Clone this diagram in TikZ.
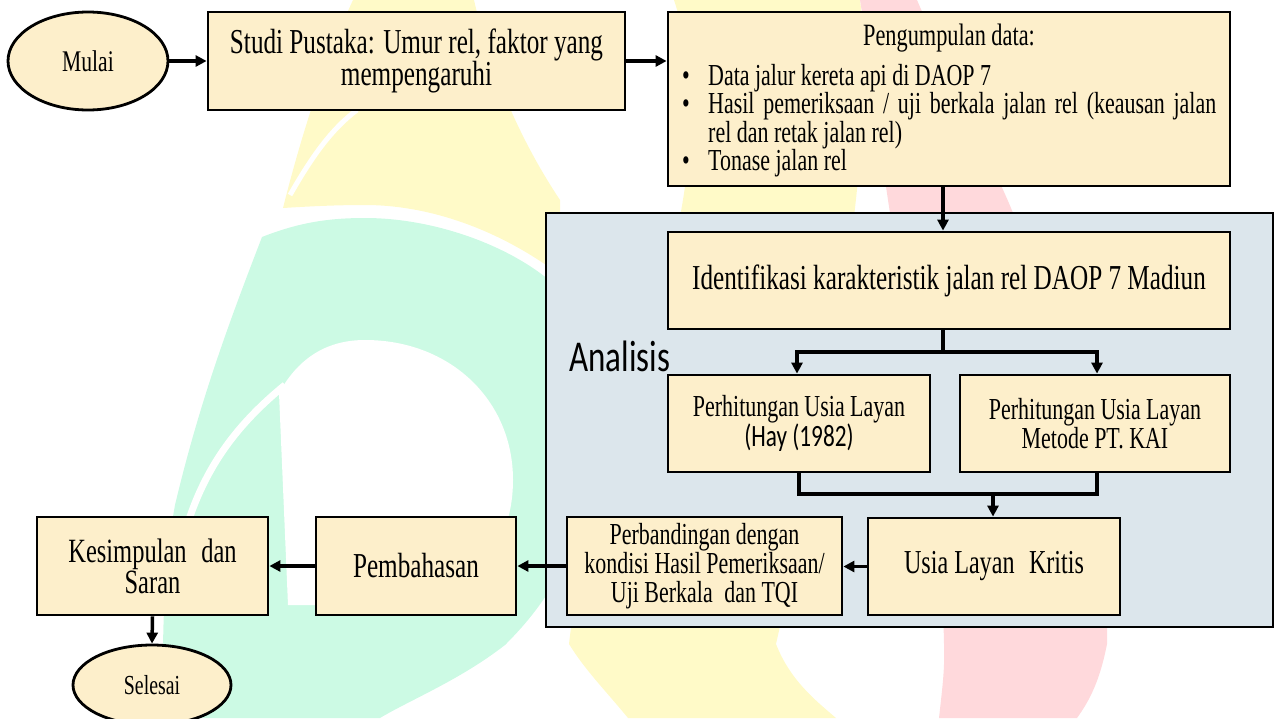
\documentclass[tikz,border=0pt]{standalone}
\usepackage{fontspec}
\setmainfont{Liberation Serif}[FakeStretch=0.72]
\newfontfamily\calib{Carlito}[FakeStretch=0.75]
\usetikzlibrary{arrows.meta,shapes.geometric}
\definecolor{boxfill}{RGB}{253,239,203}
\definecolor{greyfill}{RGB}{220,230,236}
\definecolor{greenbg}{RGB}{204,250,228}
\definecolor{yellowbg}{RGB}{255,250,200}
\definecolor{pinkbg}{RGB}{255,217,220}
\tikzset{
  box/.style={draw, line width=2.8pt, fill=boxfill, inner sep=0pt, align=center, rectangle},
  oval/.style={draw, line width=2.8pt, fill=boxfill, inner sep=0pt, ellipse},
  arr/.style={line width=3.5pt, -{Triangle[length=11pt,width=11pt]}},
  conn/.style={line width=3.5pt}
}
\begin{document}
\begin{tikzpicture}[x=1pt,y=-1pt]
\useasboundingbox (0,0) rectangle (1274,718);
% background watermark
\begin{scope}
\clip (0,0) rectangle (1274,718);
\fill[greenbg] (262,237) .. controls (300,222) and (330,218) .. (365,218)
  .. controls (440,218) and (520,250) .. (560,290) -- (600,450)
  .. controls (580,560) and (540,610) .. (505,645)
  .. controls (460,680) and (410,700) .. (380,718) -- (165,718)
  .. controls (160,640) and (165,560) .. (175,505)
  .. controls (200,400) and (230,320) .. (262,237) -- cycle;
\fill[white] (279,393) .. controls (300,355) and (330,340) .. (365,340)
  .. controls (450,340) and (513,400) .. (513,480)
  .. controls (513,540) and (480,580) .. (440,605) -- (288,605) -- cycle;
\draw[white, line width=7pt] (285,385) .. controls (230,430) and (195,480) .. (178,560);
\fill[yellowbg] (283,208) .. controls (300,140) and (325,60) .. (353,0) -- (474,0)
  .. controls (490,70) and (520,140) .. (560,200) -- (560,275)
  .. controls (500,230) and (430,205) .. (365,205)
  .. controls (330,205) and (300,207) .. (283,208) -- cycle;
\draw[white, line width=5pt] (290,195) .. controls (310,160) and (330,130) .. (357,110);
\fill[yellowbg] (674,0) -- (860,0) .. controls (880,150) and (820,450) .. (776,644)
  .. controls (790,680) and (815,700) .. (836,718) -- (628,718)
  .. controls (605,690) and (585,670) .. (569,644)
  .. controls (590,450) and (740,200) .. (674,0) -- cycle;
\fill[pinkbg] (860,0) -- (917,0) .. controls (960,100) and (1000,180) .. (1013,213)
  .. controls (1060,350) and (1110,500) .. (1107,644)
  .. controls (1100,680) and (1090,700) .. (1077,718) -- (939,718)
  .. controls (942,690) and (945,670) .. (944,644)
  .. controls (940,450) and (910,300) .. (890,213)
  .. controls (880,150) and (870,60) .. (860,0) -- cycle;
\end{scope}
% analysis area
\node[draw, line width=2.5pt, fill=greyfill, rectangle, inner sep=0pt,
      minimum width=727, minimum height=414] (area) at (909.5,420) {};
\node[anchor=west, inner sep=0pt, font=\calib\fontsize{44}{48}\selectfont] (analisis) at (569,356) {Analisis};
% nodes
\node[oval, minimum width=160, minimum height=98, font=\fontsize{30}{34}\selectfont] (mulai) at (88,61) {Mulai};
\node[box, minimum width=417, minimum height=98, font=\fontsize{35}{31}\selectfont] (studi) at (416.5,61)
  {Studi Pustaka: Umur rel, faktor yang\\mempengaruhi};
\node[box, minimum width=562, minimum height=174] (peng) at (949,99) {};
\node[inner sep=0pt, font=\fontsize{31}{34}\selectfont] (pengt) at (949,38) {Pengumpulan data:};
\node[anchor=north west, inner sep=0pt, text width=534pt, align=justify,
      font=\fontsize{30.5}{28.5}\selectfont] (pengl) at (682,64)
  {\hangindent=26pt\hangafter=1\makebox[26pt][l]{\textbullet}Data jalur kereta api di DAOP 7\par
   \hangindent=26pt\hangafter=1\makebox[26pt][l]{\textbullet}Hasil pemeriksaan / uji berkala jalan rel (keausan jalan\linebreak rel dan retak jalan rel)\par
   \hangindent=26pt\hangafter=1\makebox[26pt][l]{\textbullet}Tonase jalan rel\par};
\node[box, minimum width=562, minimum height=97, font=\fontsize{35}{30}\selectfont] (ident) at (949,280.5)
  {Identifikasi karakteristik jalan rel DAOP 7 Madiun};
\node[box, minimum width=262, minimum height=97, font=\fontsize{30.5}{27}\selectfont] (hay) at (799,423.5)
  {Perhitungan Usia Layan\\{\calib\fontsize{31}{27}\selectfont (Hay (1982)}};
\node[box, minimum width=270, minimum height=97, font=\fontsize{30.5}{27}\selectfont] (kai) at (1095,423.5)
  {Perhitungan Usia Layan\\Metode PT. KAI};
\node[box, minimum width=252, minimum height=97, font=\fontsize{33.5}{30}\selectfont] (kritis) at (994,566.5)
  {Usia Layan\hspace{0.25em} Kritis};
\node[box, minimum width=275, minimum height=98, font=\fontsize{30.5}{29}\selectfont] (banding) at (704.5,566)
  {Perbandingan dengan\\kondisi Hasil Pemeriksaan/\\Uji Berkala\hspace{0.2em} dan TQI};
\node[box, minimum width=200, minimum height=98, font=\fontsize{35}{30}\selectfont] (bahas) at (416,566)
  {Pembahasan};
\node[box, minimum width=231, minimum height=98, font=\fontsize{34}{31}\selectfont] (simpul) at (152.5,566)
  {Kesimpulan\hspace{0.25em} dan\\Saran};
\node[oval, minimum width=158, minimum height=80, font=\fontsize{27.5}{30}\selectfont] (selesai) at (152,685) {Selesai};
% connectors
\draw[arr] (mulai.east) -- (studi.west);
\draw[arr] (studi.east) -- (studi.east -| peng.west);
\draw[arr] ([xshift=-6pt]peng.south) -- ([xshift=-6pt]ident.north);
\coordinate (split) at (943,352);
\draw[conn] ([xshift=-6pt]ident.south) -- (split);
\draw[arr] (split) -| ([xshift=-2pt]hay.north);
\draw[arr] (split) -| ([xshift=2pt]kai.north);
\coordinate (merge) at (993,494);
\draw[conn] (hay.south) |- (merge);
\draw[conn] ([xshift=2pt]kai.south) |- (merge);
\draw[arr] (merge) -- (merge |- kritis.north);
\draw[arr] (kritis.west) -- (kritis.west -| banding.east);
\draw[arr] (banding.west |- bahas.east) -- (bahas.east);
\draw[arr] (bahas.west) -- (simpul.east);
\draw[arr] (simpul.south) -- (selesai.north);
\end{tikzpicture}
\end{document}
